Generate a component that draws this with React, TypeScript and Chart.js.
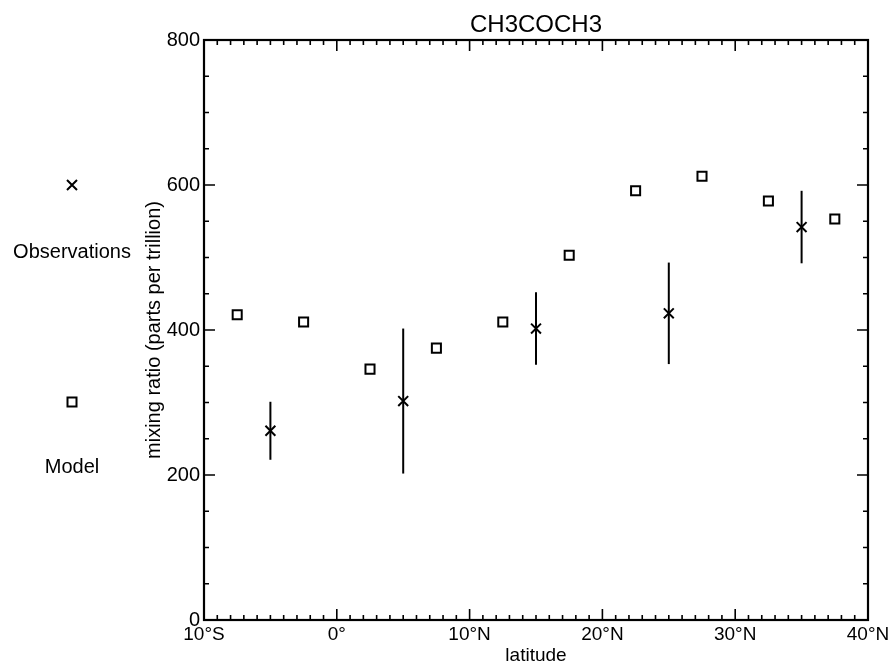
import React, { useEffect, useRef } from "react";
import { Chart, registerables } from "chart.js";

Chart.register(...registerables);

const chartTitle = "CH3COCH3";
const xTitle = "latitude";
const yTitle = "mixing ratio (parts per trillion)";
const legendLabels = ["Observations", "Model"];

const modelLat = [-7.5, -2.5, 2.5, 7.5, 12.5, 17.5, 22.5, 27.5, 32.5, 37.5];
const modelVal = [421, 411, 346, 375, 411, 503, 592, 612, 578, 553];

const obsLat = [-5, 5, 15, 25, 35];
const obsVal = [261, 302, 402, 423, 542];
const obsErr = [40, 100, 50, 70, 50];

const xTickValues = [-10, 0, 10, 20, 30, 40];
const xTickLabels = ["10°S", "0°", "10°N", "20°N", "30°N", "40°N"];
const yTickValues = [0, 200, 400, 600, 800];

const FONT = "'Liberation Sans', Arial, Helvetica, sans-serif";

const framePlugin = {
  id: "framePlugin",
  afterDatasetsDraw(chart: any) {
    const ctx = chart.ctx;
    const xs = chart.scales.x;
    const ys = chart.scales.y;
    const { left, right, top, bottom } = chart.chartArea;
    ctx.save();
    ctx.strokeStyle = "#000";
    // error bars
    ctx.lineWidth = 2;
    obsLat.forEach((lat, i) => {
      const px = xs.getPixelForValue(lat);
      ctx.beginPath();
      ctx.moveTo(px, ys.getPixelForValue(obsVal[i] - obsErr[i]));
      ctx.lineTo(px, ys.getPixelForValue(obsVal[i] + obsErr[i]));
      ctx.stroke();
    });
    // frame
    ctx.lineWidth = 2.2;
    ctx.strokeRect(left, top, right - left, bottom - top);
    // x ticks
    ctx.lineWidth = 1.6;
    for (let v = -10; v <= 40; v += 1) {
      const px = xs.getPixelForValue(v);
      const len = v % 10 === 0 ? 11 : 5;
      ctx.beginPath();
      ctx.moveTo(px, bottom);
      ctx.lineTo(px, bottom - len);
      ctx.moveTo(px, top);
      ctx.lineTo(px, top + len);
      ctx.stroke();
    }
    for (let v = 0; v <= 800; v += 50) {
      const py = ys.getPixelForValue(v);
      const len = v % 200 === 0 ? 11 : 5;
      ctx.beginPath();
      ctx.moveTo(left, py);
      ctx.lineTo(left + len, py);
      ctx.moveTo(right, py);
      ctx.lineTo(right - len, py);
      ctx.stroke();
    }
    // titles
    ctx.fillStyle = "#000";
    ctx.textAlign = "center";
    ctx.textBaseline = "middle";
    ctx.font = `24px ${FONT}`;
    ctx.fillText(chartTitle, (left + right) / 2, 25);
    ctx.font = `19px ${FONT}`;
    ctx.textBaseline = "alphabetic";
    ctx.fillText(xTitle, (left + right) / 2, 661);
    ctx.save();
    ctx.translate(160, (top + bottom) / 2);
    ctx.rotate(-Math.PI / 2);
    ctx.font = `20px ${FONT}`;
    ctx.textBaseline = "alphabetic";
    ctx.fillText(yTitle, 0, 0);
    ctx.restore();
    // legend
    ctx.lineWidth = 2;
    const lx = 72;
    const r = 5;
    ctx.beginPath();
    ctx.moveTo(lx - r, 185 - r);
    ctx.lineTo(lx + r, 185 + r);
    ctx.moveTo(lx + r, 185 - r);
    ctx.lineTo(lx - r, 185 + r);
    ctx.stroke();
    ctx.strokeRect(lx - 4.5, 402 - 4.5, 9, 9);
    ctx.font = `20px ${FONT}`;
    ctx.textBaseline = "middle";
    ctx.fillText(legendLabels[0], lx, 252);
    ctx.fillText(legendLabels[1], lx, 467);
    ctx.restore();
  },
};

export default function App() {
  const ref = useRef<HTMLCanvasElement>(null);
  useEffect(() => {
    document.body.style.margin = "0";
    const canvas = ref.current;
    if (!canvas) return;
    const chart = new Chart(canvas, {
      type: "scatter",
      data: {
        datasets: [
          {
            label: legendLabels[1],
            data: modelLat.map((x, i) => ({ x, y: modelVal[i] })),
            pointStyle: "rect",
            radius: 6.4,
            borderWidth: 2,
            borderColor: "#000",
            backgroundColor: "rgba(0,0,0,0)",
          },
          {
            label: legendLabels[0],
            data: obsLat.map((x, i) => ({ x, y: obsVal[i] })),
            pointStyle: "crossRot",
            radius: 7,
            borderWidth: 2,
            borderColor: "#000",
            backgroundColor: "#000",
          },
        ],
      },
      options: {
        animation: false,
        responsive: false,
        devicePixelRatio: 1,
        layout: { padding: { left: 0, right: 26, top: 40, bottom: 0 } },
        plugins: {
          legend: { display: false },
          title: { display: false },
          tooltip: { enabled: false },
        },
        scales: {
          x: {
            type: "linear",
            min: -10,
            max: 40,
            grid: { display: false, drawTicks: false },
            border: { display: false },
            afterBuildTicks: (s: any) => {
              s.ticks = xTickValues.map((v) => ({ value: v }));
            },
            afterFit: (s: any) => {
              s.height = 42;
            },
            ticks: {
              padding: 3,
              color: "#000",
              font: { family: FONT, size: 19 },
              maxRotation: 0,
              autoSkip: false,
              callback: (v: any) => {
                const i = xTickValues.indexOf(Number(v));
                return i >= 0 ? xTickLabels[i] : "";
              },
            },
          },
          y: {
            type: "linear",
            min: 0,
            max: 800,
            grid: { display: false, drawTicks: false },
            border: { display: false },
            afterBuildTicks: (s: any) => {
              s.ticks = yTickValues.map((v) => ({ value: v }));
            },
            afterFit: (s: any) => {
              s.width = 204;
            },
            ticks: {
              padding: 4,
              color: "#000",
              font: { family: FONT, size: 20 },
              callback: (v: any) => String(v),
            },
          },
        },
      },
      plugins: [framePlugin],
    });
    return () => chart.destroy();
  }, []);
  return (
    <canvas
      ref={ref}
      width={894}
      height={662}
      style={{ display: "block", width: 894, height: 662 }}
    />
  );
}
